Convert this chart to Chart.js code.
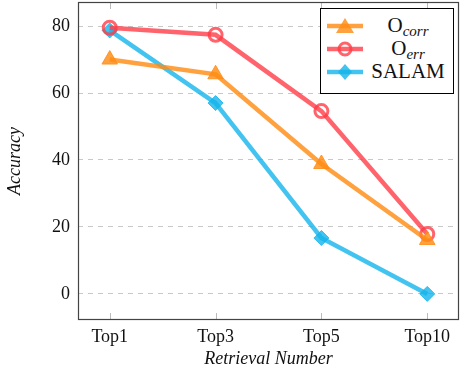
<!DOCTYPE html>
<html>
<head>
<meta charset="utf-8">
<script src="https://cdn.jsdelivr.net/npm/chart.js@4"></script>
<style>
  html, body { margin: 0; padding: 0; background: #fff; }
  #wrap { position: relative; width: 464px; height: 372px; }
  canvas { display: block; }
  #legend {
    position: absolute; left: 320px; top: 8px; width: 134px; height: 86px;
    border: 1px solid #000; background: #fff; box-sizing: border-box;
    font-family: 'Liberation Serif', serif; font-size: 21px; color: #111;
  }
  .row { position: absolute; left: 6px; height: 22px; width: 126px; }
  .row svg { position: absolute; left: 0; top: 0; width: 36px; height: 22px; }
  .row span { position: absolute; left: 36px; right: 0; top: -2px; text-align: center; white-space: nowrap; line-height: 24px; }
  .row sub { font-style: italic; font-size: 15px; vertical-align: -4px; line-height: 0; }
</style>
</head>
<body>
<div id="wrap">
  <canvas id="chart" width="464" height="372"></canvas>
  <div id="legend"></div>
</div>
<script>
const categories = ['Top1', 'Top3', 'Top5', 'Top10'];
const oCorr = [70, 65.6, 38.8, 16.1];
const oErr = [79.5, 77.4, 54.6, 17.9];
const salam = [78.7, 57, 16.7, 0];
const yTicks = [0, 20, 40, 60, 80];

const orange = 'rgba(255,140,20,0.82)';
const red = 'rgba(255,60,70,0.8)';
const cyan = 'rgba(20,180,235,0.8)';

const toPoints = arr => arr.map((v, i) => ({ x: i, y: v }));

// frame + inner ticks like pgfplots
const framePlugin = {
  id: 'frame',
  afterDatasetsDraw(chart) {
    const { ctx, chartArea: a, scales } = chart;
    ctx.save();
    ctx.strokeStyle = '#bbb';
    ctx.lineWidth = 1;
    categories.forEach((c, i) => {
      const x = Math.round(scales.x.getPixelForValue(i)) + 0.5;
      ctx.beginPath();
      ctx.moveTo(x, a.bottom); ctx.lineTo(x, a.bottom - 7);
      ctx.moveTo(x, a.top); ctx.lineTo(x, a.top + 7);
      ctx.stroke();
    });
    ctx.strokeStyle = '#444';
    ctx.lineWidth = 1.2;
    ctx.strokeRect(a.left + 0.5, a.top + 0.5, a.right - a.left - 1, a.bottom - a.top - 1);
    ctx.restore();
  }
};

const serif = "'Liberation Serif', 'DejaVu Serif', serif";

new Chart(document.getElementById('chart'), {
  type: 'line',
  data: {
    datasets: [
      { label: 'Ocorr', data: toPoints(oCorr), borderColor: orange, backgroundColor: orange,
        borderWidth: 4.5, pointStyle: 'triangle', pointRadius: 9, pointBorderWidth: 1 },
      { label: 'Oerr', data: toPoints(oErr), borderColor: red, backgroundColor: 'rgba(255,255,255,0)',
        borderWidth: 4.5, pointStyle: 'circle', pointRadius: 6.5, pointBorderWidth: 3 },
      { label: 'SALAM', data: toPoints(salam), borderColor: cyan, backgroundColor: cyan,
        borderWidth: 4.5, pointStyle: 'rectRot', pointRadius: 7.5, pointBorderWidth: 1 }
    ]
  },
  options: {
    responsive: false,
    animation: false,
    layout: { autoPadding: false, padding: { top: 2, right: 5, left: 0, bottom: 0 } },
    plugins: { legend: { display: false }, tooltip: { enabled: false } },
    scales: {
      x: {
        type: 'linear', min: -0.3, max: 3.3,
        ticks: {
          stepSize: 1, includeBounds: false, color: '#111',
          font: { family: serif, size: 18 }, padding: 6,
          callback: v => categories[v] ?? ''
        },
        grid: { display: false, drawTicks: false },
        border: { display: false },
        title: { display: true, text: 'Retrieval Number', color: '#111',
          font: { family: serif, size: 18, style: 'italic' }, padding: { top: 0, bottom: 2 } },
        afterFit(s) { s.height = 52; s.paddingLeft = 0; s.paddingRight = 0; }
      },
      y: {
        min: -7.8, max: 87.2,
        afterBuildTicks(s) { s.ticks = yTicks.map(v => ({ value: v })); },
        ticks: { color: '#111', font: { family: serif, size: 18 }, padding: 8 },
        grid: { color: '#c8c8c8', lineWidth: 1, tickLength: 0, drawTicks: false },
        border: { display: false, dash: [5, 5] },
        title: { display: true, text: 'Accuracy', color: '#111',
          font: { family: serif, size: 18, style: 'italic' }, padding: { bottom: 6 } },
        afterFit(s) { s.width = 78; s.paddingTop = 0; s.paddingBottom = 0; }
      }
    }
  },
  plugins: [framePlugin]
});

// legend with subscripts
const legendRows = [
  { html: 'O<sub>corr</sub>', color: orange, marker: '<polygon points="18,3 27,18 9,18" fill="' + orange + '"/>' },
  { html: 'O<sub>err</sub>', color: red, marker: '<circle cx="18" cy="11" r="6" fill="none" stroke="' + red + '" stroke-width="3"/>' },
  { html: 'SALAM', color: cyan, marker: '<polygon points="18,3 25,11 18,19 11,11" fill="' + cyan + '"/>' }
];
const legend = document.getElementById('legend');
legendRows.forEach((r, i) => {
  const row = document.createElement('div');
  row.className = 'row';
  row.style.top = (6 + i * 23) + 'px';
  row.innerHTML = '<svg viewBox="0 0 36 22"><line x1="0" y1="11" x2="36" y2="11" stroke="' + r.color +
    '" stroke-width="4.5"/>' + r.marker + '</svg><span>' + r.html + '</span>';
  legend.appendChild(row);
});
</script>
</body>
</html>
